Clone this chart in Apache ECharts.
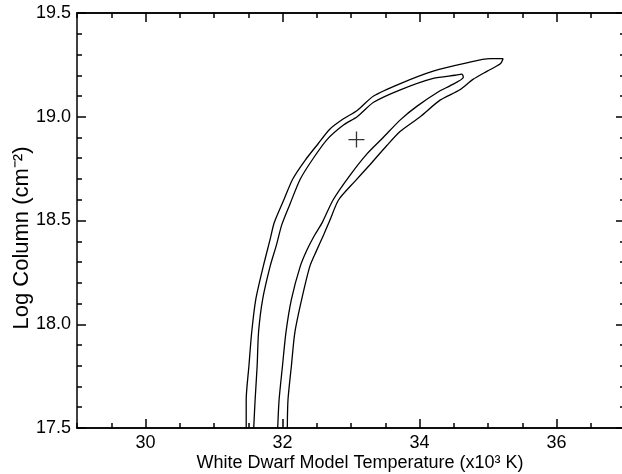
<!DOCTYPE html>
<html>
<head>
<meta charset="utf-8">
<script src="https://cdn.jsdelivr.net/npm/echarts@6/dist/echarts.min.js"></script>
<style>
  html, body { margin: 0; padding: 0; background: #fff; }
  #chart-container { width: 622px; height: 474px; }
</style>
</head>
<body>
<div id="chart-container"></div>
<script>
// outer confidence contour: up the left side to the tip, then back down the right side
var outerContour = [
  [31.47, 17.50], [31.47, 17.635], [31.51, 17.80], [31.55, 17.96], [31.61, 18.12],
  [31.72, 18.28], [31.82, 18.41], [31.88, 18.49], [32.02, 18.60], [32.15, 18.70],
  [32.33, 18.79], [32.52, 18.87], [32.69, 18.94], [32.89, 18.99], [33.09, 19.03],
  [33.33, 19.10], [33.72, 19.16], [34.20, 19.22], [34.69, 19.26], [35.03, 19.28],
  [35.22, 19.28],
  [35.18, 19.255], [34.99, 19.22], [34.78, 19.18], [34.59, 19.13], [34.30, 19.08],
  [34.01, 19.00], [33.72, 18.93], [33.52, 18.86], [33.28, 18.77], [33.06, 18.69],
  [32.82, 18.60], [32.69, 18.50], [32.60, 18.43], [32.49, 18.35], [32.40, 18.28],
  [32.28, 18.12], [32.18, 17.96], [32.13, 17.80], [32.08, 17.635], [32.07, 17.50]
];

// inner contour
var innerContour = [
  [31.58, 17.50], [31.60, 17.635], [31.63, 17.80], [31.65, 17.96], [31.71, 18.12],
  [31.82, 18.28], [31.91, 18.38], [31.99, 18.48], [32.11, 18.58], [32.26, 18.70],
  [32.45, 18.80], [32.65, 18.89], [32.89, 18.96], [33.09, 19.00], [33.33, 19.07],
  [33.72, 19.13], [34.20, 19.185], [34.52, 19.20], [34.62, 19.205],
  [34.64, 19.19], [34.45, 19.15], [34.30, 19.125], [33.96, 19.05], [33.72, 18.985],
  [33.47, 18.90], [33.23, 18.82], [32.99, 18.72], [32.74, 18.60], [32.58, 18.49],
  [32.47, 18.43], [32.36, 18.36], [32.26, 18.28], [32.13, 18.12], [32.05, 17.96],
  [32.00, 17.80], [31.95, 17.635], [31.93, 17.50]
];

// best fit
var bestFit = [[33.08, 18.89]];

var xRange = [29, 37];
var yRange = [17.5, 19.5];
var xMajorTicks = [30, 32, 34, 36];

var FONT = '"Liberation Sans", Arial, Helvetica, sans-serif';

function xAxisDef(pos, major) {
  var ax = {
    type: 'value',
    position: pos,
    min: xRange[0],
    max: xRange[1],
    axisLine: { show: true, onZero: false, lineStyle: { color: '#000', width: 1.5 } },
    splitLine: { show: false }
  };
  if (major) {
    ax.axisTick = { show: true, inside: true, length: 9, customValues: xMajorTicks,
                    lineStyle: { color: '#000', width: 1.5 } };
    ax.axisLabel = pos === 'bottom'
      ? { show: true, customValues: xMajorTicks, color: '#000', fontSize: 18, fontFamily: FONT, margin: 6 }
      : { show: false };
  } else {
    ax.interval = 0.5;
    ax.axisTick = { show: true, inside: true, length: 5, lineStyle: { color: '#000', width: 1.5 } };
    ax.axisLabel = { show: false };
  }
  return ax;
}

function yAxisDef(pos) {
  return {
    type: 'value',
    position: pos,
    min: yRange[0],
    max: yRange[1],
    interval: 0.5,
    axisLine: { show: true, onZero: false, lineStyle: { color: '#000', width: 1.5 } },
    axisTick: { show: true, inside: true, length: 9, lineStyle: { color: '#000', width: 1.5 } },
    minorTick: { show: true, splitNumber: 5, length: 5, lineStyle: { color: '#000', width: 1.5 } },
    splitLine: { show: false },
    minorSplitLine: { show: false },
    axisLabel: pos === 'left'
      ? { show: true, color: '#000', fontSize: 18, fontFamily: FONT, margin: 6,
          formatter: function (v) { return v.toFixed(1); } }
      : { show: false }
  };
}

var dom = document.getElementById('chart-container');
var myChart = echarts.init(dom, null, { renderer: 'canvas' });

var option = {
  animation: false,
  backgroundColor: '#fff',
  grid: { left: 77, top: 13, width: 548, height: 415, outerBoundsMode: 'none' },
  xAxis: [
    xAxisDef('bottom', true),
    xAxisDef('bottom', false),
    xAxisDef('top', true),
    xAxisDef('top', false)
  ],
  yAxis: [yAxisDef('left'), yAxisDef('right')],
  series: [
    {
      type: 'line', data: outerContour, xAxisIndex: 0, yAxisIndex: 0,
      showSymbol: false, symbol: 'none', clip: true, smooth: 0.25,
      lineStyle: { color: '#000', width: 1.3 }
    },
    {
      type: 'line', data: innerContour, xAxisIndex: 0, yAxisIndex: 0,
      showSymbol: false, symbol: 'none', clip: true, smooth: 0.25,
      lineStyle: { color: '#000', width: 1.3 }
    },
    {
      type: 'scatter', data: bestFit, xAxisIndex: 0, yAxisIndex: 0,
      symbol: 'path://M0,-1L0,1M-1,0L1,0', symbolSize: 16,
      itemStyle: { color: 'none', borderColor: '#000', borderWidth: 1.3 }
    }
  ],
  graphic: [
    {
      type: 'text', x: 360, y: 463,
      style: { text: 'White Dwarf Model Temperature (x10\u00b3 K)', fill: '#000',
               font: '18px ' + FONT, textAlign: 'center', textVerticalAlign: 'middle' }
    },
    {
      type: 'text', x: 22, y: 238, rotation: Math.PI / 2,
      style: { text: 'Log Column (cm\u207b\u00b2)', fill: '#000',
               font: '22px ' + FONT, textAlign: 'center', textVerticalAlign: 'middle' }
    }
  ]
};

if (option && typeof option === 'object') {
  myChart.setOption(option);
}
</script>
</body>
</html>
